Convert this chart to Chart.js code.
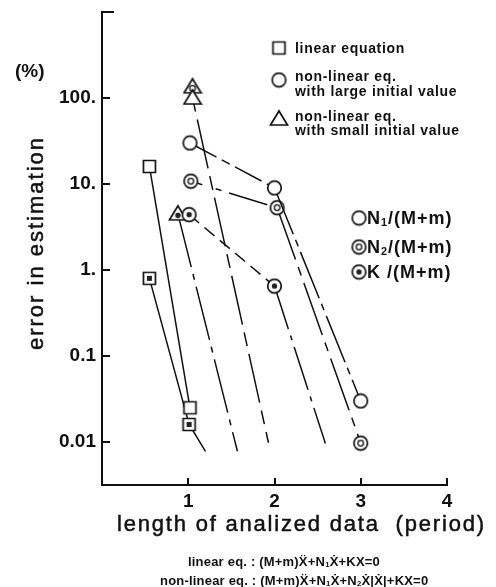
<!DOCTYPE html>
<html>
<head>
<meta charset="utf-8">
<script src="https://cdn.jsdelivr.net/npm/chart.js@4.4.1/dist/chart.umd.min.js"></script>
<style>
  body { margin: 0; background: #fff; }
  #wrap { position: relative; width: 496px; height: 587px; font-family: "Liberation Sans", Arial, sans-serif; color: #111; }
  #c { position: absolute; left: 0; top: 0; }
  .t { position: absolute; white-space: nowrap; }
  .ttl { font-size: 22px; line-height: 22px; -webkit-text-stroke: 0.5px #111; }
  .leg { font-size: 14px; font-weight: bold; letter-spacing: 0.7px; line-height: 14px; }
  .rleg { font-size: 18px; font-weight: bold; letter-spacing: 1px; line-height: 18px; }
  .eq { font-size: 13px; font-weight: bold; letter-spacing: 0.2px; line-height: 14px; }
  sub { font-size: 0.6em; line-height: 0; vertical-align: -0.15em; }
</style>
</head>
<body>
<div id="wrap">
  <canvas id="c" width="496" height="587"></canvas>
  <div class="t" style="left:15px;top:61px;font-size:19px;font-weight:bold;line-height:20px;">(%)</div>
  <div class="t ttl" style="left:36px;top:243px;letter-spacing:2px;transform:translate(-50%,-50%) rotate(-90deg);">error in estimation</div>
  <div class="t ttl" style="left:117px;top:513px;letter-spacing:1.8px;">length of analized data&nbsp; (period)</div>

  <div class="t leg" style="left:295px;top:41px;">linear equation</div>
  <div class="t leg" style="left:295px;top:69px;">non-linear eq.</div>
  <div class="t leg" style="left:295px;top:84px;">with large initial value</div>
  <div class="t leg" style="left:295px;top:109px;">non-linear eq.</div>
  <div class="t leg" style="left:295px;top:123px;">with small initial value</div>

  <div class="t rleg" style="left:367px;top:209px;">N<sub>1</sub>/(M+m)</div>
  <div class="t rleg" style="left:367px;top:238px;">N<sub>2</sub>/(M+m)</div>
  <div class="t rleg" style="left:367px;top:263px;">K /(M+m)</div>

  <div class="t eq" style="left:188px;top:555px;">linear eq. : (M+m)X&#776;+N<sub>1</sub>X&#775;+KX=0</div>
  <div class="t eq" style="left:160px;top:574px;">non-linear eq. : (M+m)X&#776;+N<sub>1</sub>X&#775;+N<sub>2</sub>X&#775;|X&#775;|+KX=0</div>
</div>
<script>
// axis ticks
const X_TICKS = [1, 2, 3, 4];
const Y_TICKS = [0.01, 0.1, 1, 10, 100, 1000];
const Y_TICK_LABELS = ['0.01', '0.1', '1.', '10.', '100.', ''];

// linear equation (squares)
const linN1X = [0.55, 1.02];
const linN1Y = [16, 0.025];
const linKX = [0.55, 1.01, 1.2];
const linKY = [0.8, 0.016, 0.0078];

// non-linear eq., large initial value (circles)
const largeN1X = [1.02, 2.0, 3.0];
const largeN1Y = [30, 9, 0.03];
const largeN2X = [1.03, 2.03, 3.0];
const largeN2Y = [10.8, 5.3, 0.0097];
const largeKX = [1.01, 2.0, 2.59];
const largeKY = [4.4, 0.65, 0.0096];

// non-linear eq., small initial value (triangles)
const smallN1X = [1.05, 1.93];
const smallN1Y = [100, 0.0098];
const smallN2X = [1.05];
const smallN2Y = [135];
const smallKX = [0.88, 1.57];
const smallKY = [4.5, 0.0078];

const INK = '#111';

// little canvases used as point styles
function marker(shape, inner) {
  const s = shape === 'tri' ? 20 : 17;
  const c = document.createElement('canvas');
  c.width = s; c.height = s;
  const g = c.getContext('2d');
  const m = s / 2;
  g.lineWidth = 1.7;
  g.strokeStyle = INK;
  g.fillStyle = '#fff';
  g.beginPath();
  if (shape === 'sq') g.rect(m - 6, m - 6, 12, 12);
  else if (shape === 'ci') g.arc(m, m, 6.8, 0, Math.PI * 2);
  else { g.moveTo(m, m - 8); g.lineTo(m + 8.5, m + 6); g.lineTo(m - 8.5, m + 6); g.closePath(); }
  g.fill();
  g.stroke();
  const cy = shape === 'tri' ? m + 1.5 : m;
  if (inner === 'ring') {
    g.beginPath(); g.lineWidth = 1.3; g.arc(m, cy, 2.8, 0, Math.PI * 2); g.stroke();
  } else if (inner === 'dot') {
    g.fillStyle = '#222';
    g.beginPath();
    if (shape === 'sq') g.rect(m - 2.5, m - 2.5, 5, 5);
    else g.arc(m, cy, 2.7, 0, Math.PI * 2);
    g.fill();
  }
  return c;
}

const sqOpen = marker('sq'), sqDot = marker('sq', 'dot');
const ciOpen = marker('ci'), ciRing = marker('ci', 'ring'), ciDot = marker('ci', 'dot');
const trOpen = marker('tri'), trRing = marker('tri', 'ring'), trDot = marker('tri', 'dot');

// tail = last point is an extrapolated end without a marker
function series(xs, ys, style, dash, tail) {
  const ds = {
    data: xs.map((x, i) => ({ x: x, y: ys[i] })),
    borderColor: INK,
    borderWidth: 1.5,
    pointStyle: style,
    pointRadius: xs.map((_, i) => (tail && i === xs.length - 1 ? 0 : 7)),
    pointHoverRadius: 0,
    showLine: true,
    fill: false,
    tension: 0,
  };
  if (Array.isArray(dash[0])) ds.segment = { borderDash: ctx => dash[ctx.p0DataIndex] };
  else ds.borderDash = dash;
  return ds;
}

const datasets = [
  series(linN1X, linN1Y, sqOpen, [], false),
  series(linKX, linKY, sqDot, [], true),
  series(largeN1X, largeN1Y, ciOpen, [[30, 6, 9, 6], [50, 6, 7, 6]], false),
  series(largeN2X, largeN2Y, ciRing, [[12, 14, 6, 8, 40, 8], [55, 8, 9, 8]], false),
  series(largeKX, largeKY, ciDot, [[13, 7], [45, 7, 5, 7]], true),
  series(smallN1X, smallN1Y, trOpen, [14, 8, 50, 8], true),
  series(smallN2X, smallN2Y, trRing, [], false),
  series(smallKX, smallKY, trDot, [55, 7, 6, 7], true),
];

const decor = {
  id: 'decor',
  afterDraw(chart) {
    const { ctx, chartArea: a, scales: { x, y } } = chart;
    ctx.save();
    ctx.strokeStyle = INK;
    ctx.lineWidth = 2;
    Y_TICKS.forEach(v => {
      const py = Math.round(y.getPixelForValue(v));
      ctx.beginPath();
      ctx.moveTo(a.left, py);
      ctx.lineTo(a.left + (v === 1000 ? 12 : 8), py);
      ctx.stroke();
    });
    X_TICKS.forEach(v => {
      const px = Math.round(x.getPixelForValue(v));
      ctx.beginPath();
      ctx.moveTo(px, a.bottom);
      ctx.lineTo(px, a.bottom - 7);
      ctx.stroke();
    });
    // legend symbols
    const put = (img, cx, cy) => ctx.drawImage(img, cx - img.width / 2, cy - img.height / 2);
    put(sqOpen, 279, 48);
    put(ciOpen, 279, 80);
    put(trOpen, 279, 119);
    put(ciOpen, 359, 218);
    put(ciRing, 359, 247);
    put(ciDot, 359, 272);
    ctx.restore();
  }
};

const tickFont = { family: '"Liberation Sans", Arial, sans-serif', size: 19, weight: 'bold' };

new Chart(document.getElementById('c'), {
  type: 'scatter',
  data: { datasets: datasets },
  options: {
    responsive: false,
    animation: false,
    devicePixelRatio: 1,
    layout: { padding: { top: 12, right: 49, left: 0, bottom: 0 } },
    plugins: { legend: { display: false }, tooltip: { enabled: false } },
    scales: {
      x: {
        type: 'linear',
        min: 0,
        max: 4,
        afterBuildTicks: s => { s.ticks = X_TICKS.map(v => ({ value: v })); },
        afterFit: s => { s.height = 102; s.paddingLeft = 0; s.paddingRight = 0; },
        grid: { display: false, drawTicks: false },
        border: { display: true, width: 2, color: INK },
        ticks: { font: tickFont, color: INK, padding: 5, autoSkip: false, maxRotation: 0 },
      },
      y: {
        type: 'logarithmic',
        min: Math.pow(10, -2.5),
        max: 1000,
        afterBuildTicks: s => { s.ticks = Y_TICKS.map(v => ({ value: v })); },
        afterFit: s => { s.width = 102; s.paddingTop = 0; s.paddingBottom = 0; },
        grid: { display: false, drawTicks: false },
        border: { display: true, width: 2, color: INK },
        ticks: {
          font: tickFont,
          color: INK,
          padding: 6,
          autoSkip: false,
          callback: (v, i) => Y_TICK_LABELS[i],
        },
      },
    },
  },
  plugins: [decor],
});
</script>
</body>
</html>
